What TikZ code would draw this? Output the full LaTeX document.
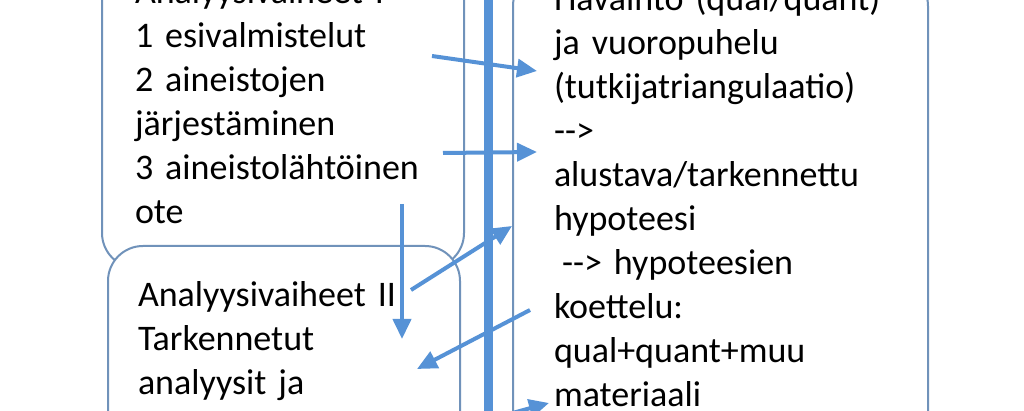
\documentclass[tikz,border=0pt]{standalone}
\usepackage{fontspec}
\setmainfont{Carlito}[WordSpace=0.65]
\usetikzlibrary{arrows.meta}

\definecolor{framegray}{RGB}{112,146,186}
\definecolor{arrowblue}{RGB}{86,146,214}

\begin{document}
\begin{tikzpicture}[x=0.5pt, y=-0.5pt,
  phasebox/.style={rectangle, draw=framegray, line width=1pt, rounded corners=17.5pt, fill=white, align=left, font=\fontsize{18}{22}\selectfont, inner ysep=0pt},
  flow/.style={draw=arrowblue, line width=2pt, -{Triangle[length=10pt, width=9pt]}}]

\useasboundingbox (0,0) rectangle (1024,411);

% Boxes
\node[phasebox, anchor=south west, minimum width=181pt, minimum height=166.5pt, text width=148pt, inner xsep=16.5pt] (phase1) at (101,269) {Analyysivaiheet I
  \\ 1 esivalmistelut
  \\ 2 aineistojen
  \\ järjestäminen
  \\ 3 aineistolähtöinen
  \\ ote};

\node[phasebox, anchor=north west, minimum width=176pt, minimum height=132pt, text width=146pt, inner xsep=15pt] (phase2) at (107,245) {Analyysivaiheet II
  \\ Tarkennetut
  \\ analyysit ja\rule[-40pt]{0pt}{40pt}};

\node[phasebox, anchor=north west, minimum width=207.5pt, minimum height=264.5pt, text width=166.5pt, inner xsep=20.5pt] (phase3) at (512,-30) {Havainto (qual/quant)
  \\ ja vuoropuhelu
  \\ (tutkijatriangulaatio)
  \\ \mbox{-}\mbox{-}>
  \\ alustava/tarkennettu
  \\ hypoteesi
  \\ \hspace*{4pt}\mbox{-}\mbox{-}> hypoteesien
  \\ koettelu:
  \\ qual+quant+muu
  \\ materiaali\rule[-40pt]{0pt}{40pt}};

% Middle axis
\coordinate (axistop) at (488,-5);
\coordinate (axisbottom) at (488,416);
\draw[arrowblue, line width=4.5pt] (axistop) -- (axisbottom);

% Arrows
\coordinate (a1) at (432,56);   \coordinate (b1) at (537,71);
\coordinate (a2) at (443,153);  \coordinate (b2) at (537,152);
\coordinate (a3) at (402,204);  \coordinate (b3) at (402,339);
\coordinate (a4) at (411,290);  \coordinate (b4) at (512,226);
\coordinate (a5) at (530,310);  \coordinate (b5) at (417,369);
\coordinate (a6) at (498,417);  \coordinate (b6) at (549,403);

\draw[flow] (a1) -- (b1);
\draw[flow] (a2) -- (b2);
\draw[flow] (a3) -- (b3);
\draw[flow] (a4) -- (b4);
\draw[flow] (a5) -- (b5);
\draw[flow] (a6) -- (b6);
\end{tikzpicture}
\end{document}
